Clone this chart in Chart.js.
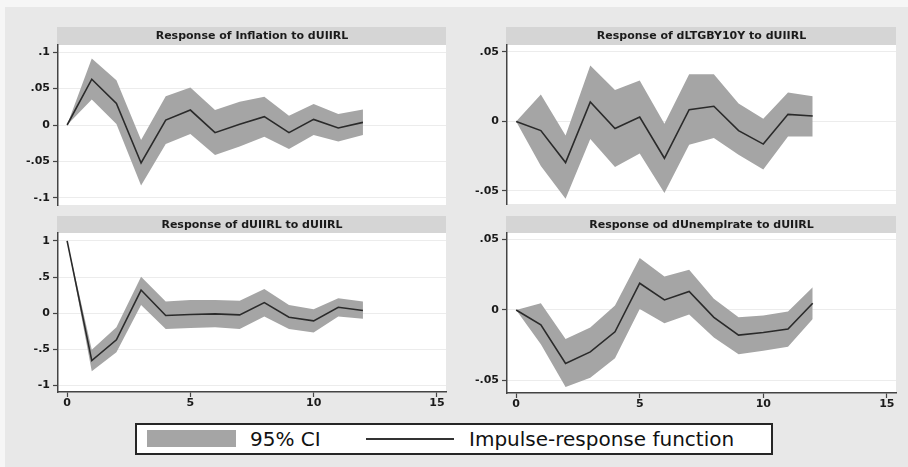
<!DOCTYPE html>
<html>
<head>
<meta charset="utf-8">
<script src="https://cdn.jsdelivr.net/npm/chart.js@4.4.1/dist/chart.umd.min.js"></script>
<style>
html,body{margin:0;padding:0;}
body{width:908px;height:467px;background:#f6f6f6;position:relative;overflow:hidden;font-family:"DejaVu Sans",sans-serif;}
#bg{position:absolute;left:5px;top:7px;right:0;bottom:0;background:#e8e8e8;}
canvas{position:absolute;}
#legend{position:absolute;left:135px;top:423px;width:634px;height:28px;border:2px solid #262626;background:#fff;box-sizing:content-box;}
#legend .sw{position:absolute;left:10px;top:5px;width:89px;height:17px;background:#a5a5a5;}
#legend .ln{position:absolute;left:229px;top:13px;width:88px;height:2px;background:#333;}
#legend .tx{position:absolute;top:0;height:28px;line-height:28px;font-size:20px;color:#111;white-space:nowrap;}
</style>
</head>
<body>
<div id="bg"></div>
<canvas id="c1" width="452" height="195" style="left:0px;top:20px;width:452px;height:195px"></canvas>
<canvas id="c2" width="456" height="195" style="left:452px;top:20px;width:456px;height:195px"></canvas>
<canvas id="c3" width="452" height="215" style="left:0px;top:208px;width:452px;height:215px"></canvas>
<canvas id="c4" width="456" height="215" style="left:452px;top:208px;width:456px;height:215px"></canvas>
<div id="legend">
  <div class="sw"></div>
  <div class="tx" style="left:113px">95% CI</div>
  <div class="ln"></div>
  <div class="tx" style="left:332px">Impulse-response function</div>
</div>
<script>
// ---- data ----
const periods = [0,1,2,3,4,5,6,7,8,9,10,11,12];

const titles = [
  "Response of Inflation to dUIIRL",
  "Response of dLTGBY10Y to dUIIRL",
  "Response of dUIIRL to dUIIRL",
  "Response od dUnemplrate to dUIIRL"
];

// Inflation
const inflIrf   = [0, 0.0627, 0.0295, -0.052, 0.0068, 0.0205, -0.0105, 0.001, 0.0114, -0.0105, 0.0077, -0.004, 0.0036];
const inflUpper = [0, 0.091, 0.0614, -0.0205, 0.0395, 0.0514, 0.0205, 0.032, 0.0386, 0.0127, 0.0286, 0.015, 0.0214];
const inflLower = [0, 0.035, 0.0014, -0.083, -0.026, -0.0123, -0.041, -0.0295, -0.016, -0.033, -0.0136, -0.0227, -0.0136];

// dLTGBY10Y
const ltgIrf   = [0, -0.0066, -0.0296, 0.0141, -0.0051, 0.0032, -0.0265, 0.0085, 0.0109, -0.0066, -0.0163, 0.0051, 0.0039];
const ltgUpper = [0, 0.0194, -0.0102, 0.0403, 0.0226, 0.0294, -0.0017, 0.034, 0.034, 0.0129, 0.0019, 0.0209, 0.0182];
const ltgLower = [0, -0.032, -0.0556, -0.0126, -0.0328, -0.023, -0.0515, -0.0167, -0.0119, -0.024, -0.0345, -0.0109, -0.0109];

// dUIIRL
const uiiIrf   = [1, -0.656, -0.367, 0.321, -0.032, -0.018, -0.009, -0.023, 0.147, -0.055, -0.106, 0.083, 0.037];
const uiiUpper = [1, -0.505, -0.193, 0.505, 0.161, 0.183, 0.183, 0.174, 0.335, 0.115, 0.055, 0.206, 0.161];
const uiiLower = [1, -0.803, -0.541, 0.115, -0.22, -0.206, -0.193, -0.22, -0.046, -0.22, -0.266, -0.046, -0.078];

// dUnemplrate
const unIrf   = [0, -0.0105, -0.038, -0.0298, -0.0155, 0.019, 0.0071, 0.0131, -0.0052, -0.0179, -0.016, -0.0136, 0.0048];
const unUpper = [0, 0.0048, -0.0207, -0.0124, 0.0031, 0.0369, 0.0238, 0.0286, 0.0079, -0.0052, -0.004, -0.001, 0.0162];
const unLower = [0, -0.0243, -0.0548, -0.0481, -0.0343, 0.0007, -0.0095, -0.0033, -0.0195, -0.0314, -0.029, -0.0262, -0.0064];

// tick values / labels
const xTickVals = [0, 5, 10, 15];
const xTickLabels = ["0", "5", "10", "15"];
const inflTickVals = [0.1, 0.05, 0, -0.05, -0.1];
const inflTickLabels = [".1", ".05", "0", "-.05", "-.1"];
const ltgTickVals = [0.05, 0, -0.05];
const ltgTickLabels = [".05", "0", "-.05"];
const uiiTickVals = [1, 0.5, 0, -0.5, -1];
const uiiTickLabels = ["1", ".5", "0", "-.5", "-1"];
const unTickVals = [0.05, 0, -0.05];
const unTickLabels = [".05", "0", "-.05"];

// ---- drawing ----
const panelDecor = {
  id: 'panelDecor',
  beforeDraw(chart) {
    const ctx = chart.ctx, a = chart.chartArea, tb = chart.titleBlock;
    ctx.save();
    ctx.fillStyle = '#ffffff';
    ctx.fillRect(a.left, a.top, a.right - a.left, a.bottom - a.top);
    ctx.fillStyle = '#d5d5d5';
    ctx.fillRect(a.left - 1, tb.top, a.right - a.left + 1, a.top - tb.top);
    ctx.restore();
  }
};

function pts(arr) { return periods.map((p, i) => ({x: p, y: arr[i]})); }

function makePanel(id, title, irf, up, lo, yMin, yMax, yVals, yLabels, showX, pad, yWidth, titlePad) {
  const tickFont = {family: 'DejaVu Sans', weight: 'bold', size: 11};
  new Chart(document.getElementById(id), {
    type: 'line',
    data: {
      datasets: [
        {data: pts(irf), borderColor: '#2a2a2a', borderWidth: 1.6, pointRadius: 0, fill: false, order: 0, tension: 0},
        {data: pts(up), borderColor: 'rgba(0,0,0,0)', borderWidth: 0, backgroundColor: '#a5a5a5', pointRadius: 0, fill: '+1', order: 1, tension: 0},
        {data: pts(lo), borderColor: 'rgba(0,0,0,0)', borderWidth: 0, pointRadius: 0, fill: false, order: 2, tension: 0}
      ]
    },
    options: {
      responsive: false,
      animation: false,
      events: [],
      layout: {padding: pad},
      plugins: {
        legend: {display: false},
        tooltip: {enabled: false},
        title: {
          display: true, text: title, fullSize: false, color: '#1a1a1a',
          font: {family: 'DejaVu Sans', weight: 'bold', size: 11, lineHeight: 12/11},
          padding: titlePad
        }
      },
      scales: {
        x: {
          type: 'linear', min: -0.37, max: 15.37,
          display: showX,
          afterBuildTicks: s => { s.ticks = xTickVals.map(v => ({value: v})); },
          afterFit: s => { s.height = showX ? 20 : 0; },
          grid: {display: true, drawOnChartArea: false, drawTicks: true, tickLength: 5, tickColor: '#444', tickWidth: 1.2},
          border: {display: true, color: '#444', width: 1.5},
          ticks: {font: tickFont, color: '#1a1a1a', padding: 0, maxRotation: 0, autoSkip: false,
                  callback: (v, i) => xTickLabels[i]}
        },
        y: {
          type: 'linear', min: yMin, max: yMax,
          afterBuildTicks: s => { s.ticks = yVals.map(v => ({value: v})); },
          afterFit: s => { s.width = yWidth; },
          grid: {color: '#ececec', lineWidth: 1, drawTicks: true, tickLength: 5, tickColor: '#444', tickWidth: 1.2},
          border: {display: true, color: '#444', width: 1.5},
          ticks: {font: tickFont, color: '#1a1a1a', padding: 3, autoSkip: false,
                  callback: (v, i) => yLabels[i]}
        }
      }
    },
    plugins: [panelDecor]
  });
}

makePanel('c1', titles[0], inflIrf, inflUpper, inflLower, -0.1096, 0.1096, inflTickVals, inflTickLabels, false,
  {left: 0, right: 6, top: 7, bottom: 10}, 58, {top: 3, bottom: 3});
makePanel('c2', titles[1], ltgIrf, ltgUpper, ltgLower, -0.0594, 0.055, ltgTickVals, ltgTickLabels, false,
  {left: 0, right: 12, top: 7, bottom: 11}, 55, {top: 3, bottom: 3});
makePanel('c3', titles[2], uiiIrf, uiiUpper, uiiLower, -1.09, 1.11, uiiTickVals, uiiTickLabels, true,
  {left: 0, right: 6, top: 8, bottom: 11}, 58, {top: 3, bottom: 2});
makePanel('c4', titles[3], unIrf, unUpper, unLower, -0.059, 0.0547, unTickVals, unTickLabels, true,
  {left: 0, right: 12, top: 8, bottom: 10}, 55, {top: 3, bottom: 2});
</script>
</body>
</html>
